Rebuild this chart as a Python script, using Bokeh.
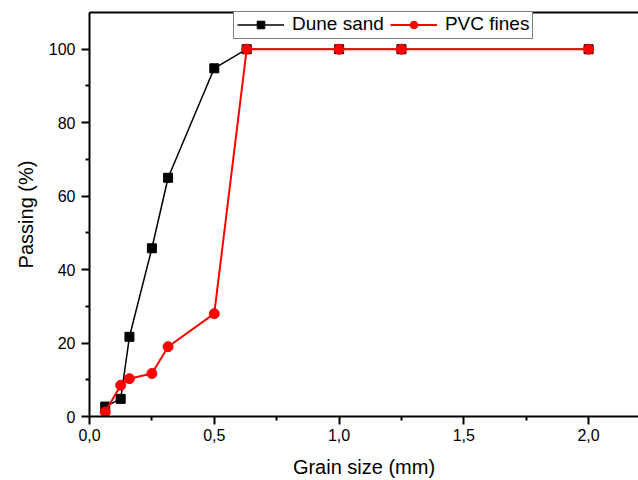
from bokeh.plotting import figure
from bokeh.models import LinearAxis, FixedTicker, CustomJSTickFormatter, Range1d
from bokeh.embed import file_html
from bokeh.resources import INLINE

# ---- data ----
grain_size = [0.063, 0.125, 0.16, 0.25, 0.315, 0.5, 0.63, 1.0, 1.25, 2.0]
dune_sand = [2.7, 4.8, 21.7, 45.8, 65.0, 94.8, 100, 100, 100, 100]
pvc_fines = [1.2, 8.5, 10.3, 11.7, 19.0, 28.0, 100, 100, 100, 100]
series_names = ["Dune sand", "PVC fines"]
x_ticks = [0.0, 0.5, 1.0, 1.5, 2.0]
x_minor = [0.25, 0.75, 1.25, 1.75]
y_ticks = [0, 20, 40, 60, 80, 100]
y_minor = [10, 30, 50, 70, 90]
x_label = "Grain size (mm)"
y_label = "Passing (%)"

FONT = "Liberation Sans"

p = figure(width=638, height=480, x_range=Range1d(0, 2.2), y_range=Range1d(0, 110),
           output_backend="svg", toolbar_location=None,
           min_border_left=89, min_border_right=0, min_border_top=12, min_border_bottom=64)
p.xgrid.visible = False
p.ygrid.visible = False
p.outline_line_color = None
p.background_fill_color = "white"
p.border_fill_color = "white"

# series
p.line(grain_size, dune_sand, line_color="black", line_width=1.5, legend_label=series_names[0])
p.scatter(grain_size, dune_sand, marker="square", size=9, color="black", legend_label=series_names[0])
p.line(grain_size, pvc_fines, line_color="#ff0000", line_width=2, legend_label=series_names[1])
p.scatter(grain_size, pvc_fines, marker="circle", size=10, color="#ff0000", legend_label=series_names[1])

# axes
for ax, ticks, minor in ((p.xaxis[0], x_ticks, x_minor), (p.yaxis[0], y_ticks, y_minor)):
    ax.ticker = FixedTicker(ticks=ticks, minor_ticks=minor)
    ax.axis_line_width = 2
    ax.major_tick_line_width = 2
    ax.minor_tick_line_width = 2
    ax.major_tick_in = 0
    ax.major_tick_out = 8
    ax.minor_tick_in = 0
    ax.minor_tick_out = 4
    ax.major_label_text_font = FONT
    ax.major_label_text_font_size = "16px"
    ax.major_label_text_color = "black"
    ax.axis_label_text_font = FONT
    ax.axis_label_text_font_size = "20px"
    ax.axis_label_text_font_style = "normal"
    ax.axis_label_text_color = "black"

p.xaxis[0].formatter = CustomJSTickFormatter(code="return tick.toFixed(1).replace('.', ',');")
p.xaxis[0].axis_label = x_label
p.xaxis[0].major_label_standoff = 4
p.xaxis[0].axis_label_standoff = 12
p.yaxis[0].axis_label = y_label
p.yaxis[0].major_label_standoff = 6
p.yaxis[0].axis_label_standoff = 9

top_axis = LinearAxis(ticker=FixedTicker(ticks=[]), axis_line_width=2,
                      major_tick_in=0, major_tick_out=0, minor_tick_in=0, minor_tick_out=0,
                      major_label_text_font_size="0px")
p.add_layout(top_axis, "above")

# legend
lg = p.legend[0]
lg.location = (144, 377)
lg.orientation = "horizontal"
lg.label_text_font = FONT
lg.label_text_font_size = "19px"
lg.label_text_color = "black"
lg.border_line_color = "black"
lg.border_line_width = 1
lg.background_fill_color = "white"
lg.background_fill_alpha = 1
lg.glyph_width = 47
lg.glyph_height = 19
lg.label_height = 19
lg.label_standoff = 8
lg.spacing = 6
lg.padding = 3
lg.margin = 0

open("out.html", "w").write(file_html(p, INLINE))
